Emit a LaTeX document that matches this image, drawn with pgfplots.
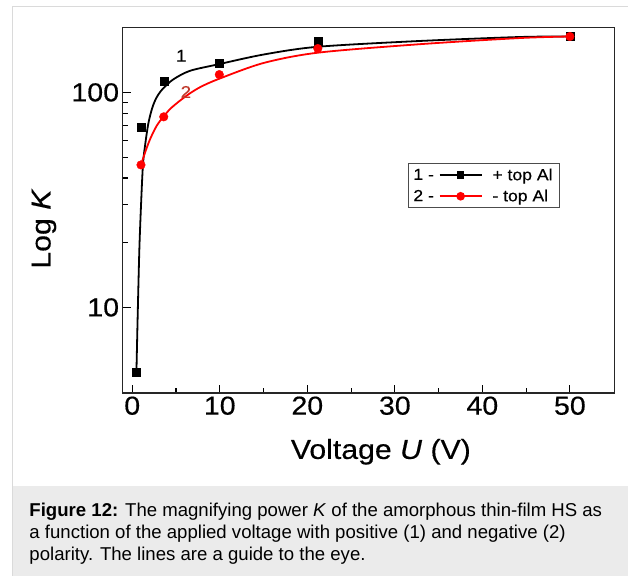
\documentclass[border=0pt]{standalone}
\usepackage{fontspec}
\setmainfont{Liberation Sans}
\newfontfamily\chartfont[FakeStretch=1.1, FakeBold=0.4]{Liberation Sans}
\usepackage{pgfplots}
\pgfplotsset{compat=1.18}
\definecolor{framegray}{HTML}{DADADA}
\definecolor{capgray}{HTML}{EBEBEB}
\definecolor{lab2}{HTML}{C0392B}
\newcommand{\legfont}{\chartfont\fontsize{16}{19}\selectfont}
\pgfplotsset{
  legA/.style={black, line width=1.6pt, mark=square*, mark size=3pt, mark options={solid},
    legend image code/.code={
      \node[anchor=east, inner sep=0pt, font=\legfont, text=black] at (-5pt,0pt) {1 -};
      \draw[mark repeat=2, mark phase=2, ##1] plot coordinates {(0pt,0pt) (21pt,0pt) (42pt,0pt)};
      \path (50pt,0pt);}},
  legB/.style={red, line width=1.6pt, mark=*, mark size=3.5pt, mark options={solid},
    legend image code/.code={
      \node[anchor=east, inner sep=0pt, font=\legfont, text=black] at (-5pt,0pt) {2 -};
      \draw[mark repeat=2, mark phase=2, ##1] plot coordinates {(0pt,0pt) (21pt,0pt) (42pt,0pt)};
      \path (50pt,0pt);}},
}
\begin{document}
\begin{tikzpicture}
\begin{scope}[x=1pt,y=1pt]
\fill[white] (0,0) rectangle (628,576);
\fill[capgray] (13,0) rectangle (628,90);
\draw[framegray, line width=1pt] (13,0) -- (13,569) -- (628,569);
\node[anchor=base west, inner sep=0pt, font=\fontsize{18.6}{22.3}\selectfont] at (29.3,59.3) {\textbf{Figure 12:} The magnifying power \textit{K} of the amorphous thin-film HS as};
\node[anchor=base west, inner sep=0pt, font=\fontsize{18.6}{22.3}\selectfont] at (29.3,37) {a function of the applied voltage with positive (1) and negative (2)};
\node[anchor=base west, inner sep=0pt, font=\fontsize{18.6}{22.3}\selectfont] at (29.3,14.7) {polarity. The lines are a guide to the eye.};
\end{scope}
\begin{axis}[
  at={(122.7pt,182.7pt)}, anchor=south west,
  scale only axis, width=492.3pt, height=365.6pt,
  ymode=log, xmin=-1.1, xmax=55.1, ymin=4, ymax=200,
  xtick={0,10,20,30,40,50}, minor xtick={5,15,25,35,45},
  ytick={10,100}, yticklabels={10,100},
  tick align=inside, tick pos=left,
  major tick length=8pt, minor tick length=5pt,
  every tick/.style={black, line width=1.1pt},
  axis line style={line width=1.4pt, black!85},
  tick label style={font=\chartfont\fontsize{26}{30}\selectfont},
  /pgf/number format/assume math mode=true,
  xlabel={Voltage \textit{U} (V)}, ylabel={Log \textit{K}},
  label style={font=\chartfont\fontsize{27.5}{32}\selectfont},
  xlabel style={at={(axis description cs:0.525,-0.161)}, anchor=center},
  ylabel style={at={(axis description cs:-0.16,0.45)}, anchor=center},
  legend style={at={(0.580,0.629)}, anchor=north west, draw=black!70, line width=0.9pt,
    font=\legfont, inner xsep=5pt, inner ysep=3pt, row sep=4pt},
  legend cell align=left,
]
% guide curves
\addplot[black, line width=1.8pt, smooth, forget plot] coordinates {
 (0.48,5) (0.63,9.4) (0.82,19) (1.05,33) (1.24,47) (1.5,58) (1.85,72) (2.3,85)
 (2.8,95) (3.5,104) (4.7,115) (6.6,126) (9.8,135) (15,150) (21.2,163) (32.8,173.4)
 (44.3,181) (50,182)};
\addplot[red, line width=1.8pt, smooth, forget plot] coordinates {
 (1,46) (1.5,53) (2.07,61) (2.8,70) (3.55,77) (4.5,85) (6.2,96.5) (7.8,106)
 (10,116) (15,137) (21.2,153) (32.8,167.5) (44.3,179) (50,182)};
% data
\addplot[only marks, mark=square*, mark size=4pt, black, forget plot] coordinates {
 (0.5,5) (1.05,69) (3.6,113) (9.95,137) (21.2,173) (50,182)};
\addplot[only marks, mark=*, mark size=4.3pt, red, forget plot] coordinates {
 (1,46) (3.6,77) (9.95,121) (21.2,160) (50,182)};
\addlegendimage{legA}
\addlegendentry{+ top Al}
\addlegendimage{legB}
\addlegendentry{- top Al}
\node[font=\chartfont\fontsize{17}{19}\selectfont] at (axis cs:5.6,148) {1};
\node[font=\chartfont\fontsize{17}{19}\selectfont, text=lab2] at (axis cs:6.13,100.5) {2};
\end{axis}
\end{tikzpicture}
\end{document}
